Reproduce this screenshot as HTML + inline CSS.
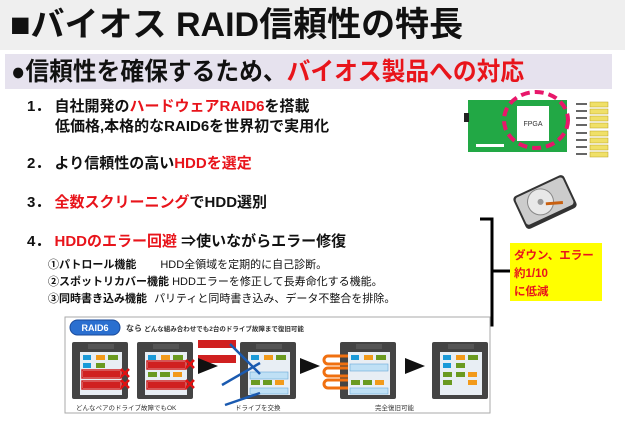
<!DOCTYPE html>
<html><head><meta charset="utf-8"><style>
body{margin:0;width:625px;height:433px;background:#fff;position:relative;overflow:hidden;font-family:"Liberation Sans","Noto Sans CJK JP",sans-serif;font-weight:bold;}
.a{position:absolute;white-space:nowrap;}
.r{color:#e8141b}
</style></head><body>
<div class="a" style="left:0;top:0;width:625px;height:50px;background:#efefef"></div>
<div class="a" style="left:10px;top:2px;font-size:34px;line-height:46px;color:#111">■バイオス RAID信頼性の特長</div>
<div class="a" style="left:5px;top:54px;width:607px;height:35px;background:#e6e2ee"></div>
<div class="a" style="left:11px;top:55px;font-size:25px;line-height:34px;color:#111;transform:scaleX(0.95);transform-origin:0 0">●信頼性を確保するため、<span class="r">バイオス製品への対応</span></div>

<div class="a" style="left:27px;top:97px;font-size:15px;line-height:20px;color:#111">1．&nbsp;自社開発の<span class="r">ハードウェアRAID6</span>を搭載</div>
<div class="a" style="left:55px;top:117px;font-size:15px;line-height:20px;color:#111">低価格,本格的なRAID6を世界初で実用化</div>
<div class="a" style="left:27px;top:154px;font-size:15px;line-height:20px;color:#111">2．&nbsp;より信頼性の高い<span class="r">HDDを選定</span></div>
<div class="a" style="left:27px;top:193px;font-size:15px;line-height:20px;color:#111">3．&nbsp;<span class="r">全数スクリーニング</span>でHDD選別</div>
<div class="a" style="left:27px;top:232px;font-size:15px;line-height:20px;color:#111">4．&nbsp;<span class="r">HDDのエラー回避</span> ⇒使いながらエラー修復</div>
<div class="a" style="left:48px;top:258px;font-size:11px;line-height:15px;color:#111">①パトロール機能<span style="font-weight:normal;margin-left:24px">HDD全領域を定期的に自己診断。</span></div>
<div class="a" style="left:48px;top:275px;font-size:11px;line-height:15px;color:#111">②スポットリカバー機能 <span style="font-weight:normal">HDDエラーを修正して長寿命化する機能。</span></div>
<div class="a" style="left:48px;top:292px;font-size:11px;line-height:15px;color:#111">③同時書き込み機能 <span style="font-weight:normal;margin-left:4px">パリティと同時書き込み、データ不整合を排除。</span></div>

<svg class="a" style="left:0;top:0" width="625" height="433">
 <rect x="468" y="100" width="99" height="52" fill="#22a845"/>
 <rect x="464" y="113" width="5" height="9" fill="#222"/>
 <rect x="517" y="106" width="32" height="35" fill="#fff"/>
 <text x="533" y="126" font-size="7" text-anchor="middle" fill="#333" font-weight="normal">FPGA</text>
 <rect x="476" y="144" width="28" height="3" fill="#fff"/>
 <ellipse cx="536" cy="120" rx="32" ry="28" fill="none" stroke="#e8176a" stroke-width="4" stroke-dasharray="9,5"/>
 <g fill="#f0e068" stroke="#b8a020" stroke-width=".5">
  <rect x="590" y="102" width="18" height="5"/><rect x="590" y="109" width="18" height="5"/><rect x="590" y="116" width="18" height="5"/><rect x="590" y="123" width="18" height="5"/>
  <rect x="590" y="131" width="18" height="5"/><rect x="590" y="138" width="18" height="5"/><rect x="590" y="145" width="18" height="5"/><rect x="590" y="152" width="18" height="5"/>
 </g>
 <g stroke="#333" stroke-width="1.5"><line x1="576" y1="104" x2="587" y2="104"/><line x1="576" y1="111" x2="587" y2="111"/><line x1="576" y1="118" x2="587" y2="118"/><line x1="576" y1="125" x2="587" y2="125"/><line x1="576" y1="133" x2="587" y2="133"/><line x1="576" y1="140" x2="587" y2="140"/><line x1="576" y1="147" x2="587" y2="147"/><line x1="576" y1="154" x2="587" y2="154"/></g>
 <g transform="translate(545,202) rotate(-25)">
  <rect x="-28" y="-18" width="56" height="36" rx="4" fill="#333"/>
  <rect x="-26" y="-16" width="52" height="30" rx="3" fill="#ccc"/>
  <circle cx="-4" cy="-2" r="13" fill="#e8e8e8" stroke="#888"/>
  <circle cx="-4" cy="-2" r="3" fill="#999"/>
  <line x1="16" y1="8" x2="0" y2="2" stroke="#c86010" stroke-width="3"/>
 </g>
 <path d="M480 219 H492 V325 H480" fill="none" stroke="#000" stroke-width="3"/>
 <line x1="492" y1="271" x2="510" y2="271" stroke="#000" stroke-width="3"/>
 <rect x="510" y="243" width="92" height="58" fill="#ffff00"/>
 <text x="514" y="259" font-size="11.5" fill="#e8141b">ダウン、エラー</text>
 <text x="514" y="277" font-size="11.5" fill="#e8141b">約1/10</text>
 <text x="514" y="295" font-size="11.5" fill="#e8141b">に低減</text>
 <rect x="65" y="317" width="425" height="96" fill="#fff" stroke="#aaa"/>
 <rect x="70" y="320" width="50" height="15" rx="7.5" fill="#2a6fd0" stroke="#1a4a9a"/>
 <text x="95" y="331" font-size="9" fill="#fff" text-anchor="middle">RAID6</text>
 <text x="126" y="331" font-size="8" fill="#333">なら <tspan font-size="6.5">どんな組み合わせでも2台のドライブ故障まで復旧可能</tspan></text>
 <g fill="#444">
  <rect x="72" y="342" width="56" height="57" rx="2"/><rect x="137" y="342" width="56" height="57" rx="2"/>
  <rect x="240" y="342" width="56" height="57" rx="2"/><rect x="340" y="342" width="56" height="57" rx="2"/>
  <rect x="432" y="342" width="56" height="57" rx="2"/>
 </g>
 <g fill="#e8eef4">
  <rect x="80" y="352" width="42" height="43"/><rect x="145" y="352" width="42" height="43"/>
  <rect x="248" y="352" width="42" height="43"/><rect x="348" y="352" width="42" height="43"/>
  <rect x="440" y="352" width="42" height="43"/>
 </g>
 <g fill="#bfe0f5" stroke="#6aa8d8" stroke-width=".6">
  <rect x="250" y="372" width="38" height="7"/><rect x="250" y="388" width="38" height="6"/>
  <rect x="350" y="364" width="38" height="7"/><rect x="350" y="388" width="38" height="6"/>
 </g>
 <g fill="#1a9ad8"><rect x="83" y="355" width="8" height="5"/><rect x="83" y="363" width="8" height="5"/><rect x="148" y="355" width="8" height="5"/><rect x="251" y="355" width="8" height="5"/><rect x="351" y="355" width="8" height="5"/><rect x="443" y="355" width="8" height="5"/><rect x="443" y="363" width="8" height="5"/></g>
 <g fill="#f29a1a"><rect x="96" y="355" width="9" height="5"/><rect x="161" y="355" width="9" height="5"/><rect x="264" y="355" width="9" height="5"/><rect x="364" y="355" width="9" height="5"/><rect x="456" y="355" width="9" height="5"/><rect x="108" y="372" width="9" height="5"/><rect x="173" y="372" width="9" height="5"/><rect x="275" y="380" width="9" height="5"/><rect x="375" y="380" width="9" height="5"/><rect x="468" y="372" width="9" height="5"/><rect x="468" y="380" width="9" height="5"/></g>
 <g fill="#6a9a20"><rect x="108" y="355" width="10" height="5"/><rect x="96" y="363" width="9" height="5"/><rect x="173" y="355" width="10" height="5"/><rect x="148" y="372" width="9" height="5"/><rect x="160" y="372" width="10" height="5"/><rect x="276" y="355" width="10" height="5"/><rect x="251" y="380" width="9" height="5"/><rect x="263" y="380" width="9" height="5"/><rect x="376" y="355" width="10" height="5"/><rect x="351" y="380" width="9" height="5"/><rect x="363" y="380" width="9" height="5"/><rect x="456" y="363" width="9" height="5"/><rect x="468" y="355" width="10" height="5"/><rect x="443" y="372" width="9" height="5"/><rect x="456" y="372" width="9" height="5"/><rect x="443" y="380" width="9" height="5"/></g>
 <g fill="none" stroke="#d02020" stroke-width="1.5"><rect x="82" y="370" width="39" height="8"/><rect x="82" y="381" width="39" height="8"/><rect x="147" y="361" width="39" height="8"/><rect x="147" y="381" width="39" height="8"/></g>
 <g fill="#d02020"><rect x="83" y="371" width="37" height="6"/><rect x="83" y="382" width="37" height="6"/><rect x="148" y="362" width="37" height="6"/><rect x="148" y="382" width="37" height="6"/><rect x="198" y="340" width="38" height="8"/><rect x="198" y="355" width="38" height="8"/></g>
 <g stroke="#e01010" stroke-width="2.5"><path d="M121 369l8 8m0-8l-8 8M121 380l8 8m0-8l-8 8M186 360l8 8m0-8l-8 8M186 380l8 8m0-8l-8 8"/></g>
 <g fill="#111"><path d="M198 358l20 8-20 8z"/><path d="M300 358l20 8-20 8z"/><path d="M405 358l20 8-20 8z"/></g>
 <g stroke="#1a5ab0" stroke-width="2.5"><line x1="230" y1="344" x2="260" y2="374"/><line x1="222" y1="385" x2="260" y2="363"/><line x1="225" y1="405" x2="260" y2="393"/></g>
 <g fill="none" stroke="#f07010" stroke-width="3"><path d="M348 356 H328 a4 4 0 0 0 0 8 H348 M348 368 H328 a4 4 0 0 0 0 8 H348 M348 380 H328 a4 4 0 0 0 0 8 H348"/></g>
 <g fill="#555"><rect x="88" y="344" width="26" height="5"/><rect x="153" y="344" width="26" height="5"/><rect x="256" y="344" width="26" height="5"/><rect x="356" y="344" width="26" height="5"/><rect x="448" y="344" width="26" height="5"/></g>
 <g font-size="6.5" fill="#333" font-weight="normal"><text x="76" y="410">どんなペアのドライブ故障でもOK</text><text x="235" y="410">ドライブを交換</text><text x="375" y="410">完全復旧可能</text></g>
</svg>
</body></html>
